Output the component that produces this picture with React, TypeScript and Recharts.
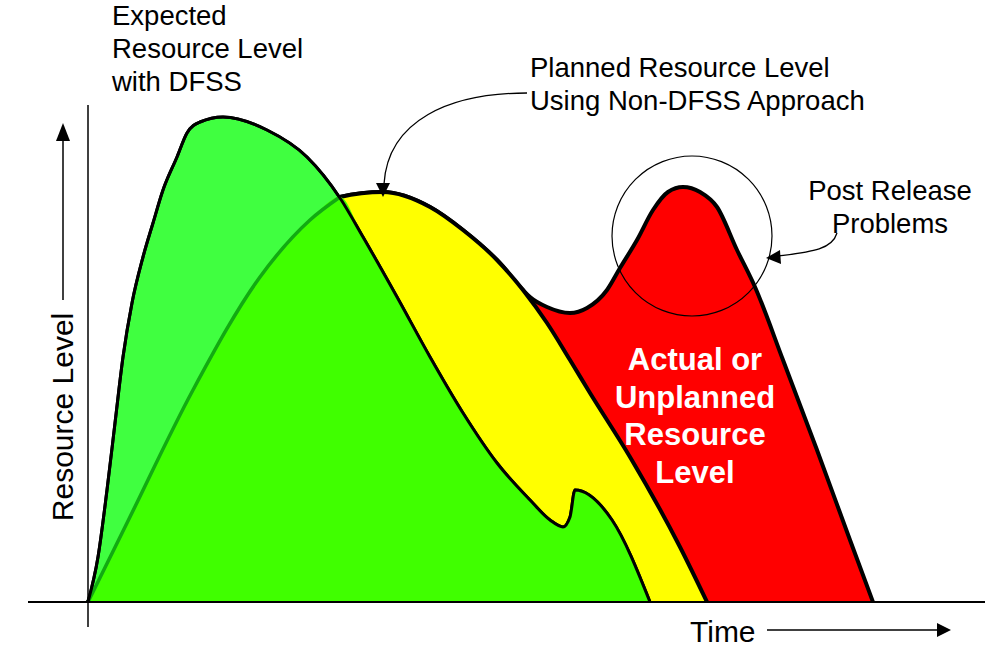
import React from 'react';
import { ComposedChart, Area, Line, XAxis, YAxis, ReferenceLine, ReferenceDot } from 'recharts';

// Time (x) and resource level (y) readings of each curve
const TIME_DFSS = [0, 1.0, 1.9, 2.7, 3.5, 4.4, 5.5, 6.5, 7.5, 8.9, 9.9, 11.2, 13.5, 17.9, 21.9, 25.2, 27.5, 30.9, 34.2, 37.5, 40.9, 44.2, 46.2, 47.5, 48.2, 48.7, 52.4, 56.2];
const LEVEL_DFSS = [0, 9, 22.4, 35.8, 49, 59.8, 69, 75.8, 82.4, 89, 93.8, 96, 97, 94.4, 89, 80.8, 73, 61, 49, 37.8, 27.8, 20.4, 16.4, 15, 17, 22.4, 16.4, 0];

const TIME_PLAN = [0, 3.9, 10.5, 17.2, 22.2, 25.2, 29.5, 34.2, 37.5, 40.9, 43.5, 45.9, 48.2, 50.2, 54.2, 59.2, 61.9];
const LEVEL_PLAN = [0, 15.8, 42.4, 65, 76.4, 81, 82, 79, 74.4, 68.4, 62.4, 55.8, 48.4, 41.8, 29, 11, 0];

const TIME_ACTUAL = [0, 3.9, 10.5, 17.2, 22.2, 25.2, 29.5, 34.2, 37.5, 40.9, 43.5, 44.2, 45.9, 48.2, 49.9, 51.9, 53.2, 54.9, 56.5, 58.0, 59.5, 61.2, 62.9, 64.9, 66.7, 69.5, 72.9, 76.2, 78.5];
const LEVEL_ACTUAL = [0, 15.8, 42.4, 65, 76.4, 81, 82, 79, 74.4, 68.4, 62.4, 61, 59, 57.8, 58.8, 62.4, 66.8, 72.4, 78.4, 82, 83, 82, 79, 70.4, 63, 48.4, 30.4, 12.4, 0];

// Crossing of planned and DFSS curves happens at time 25.2
const CROSS_PLAN_IDX = 5;
const CROSS_DFSS_IDX = 15;

const CIRCLE_CENTER = { t: 60.4, v: 73.2 };

const rows = (ts: number[], vs: number[]) => ts.map((t, i) => ({ t, v: vs[i] }));

const dfss = rows(TIME_DFSS, LEVEL_DFSS);
const planned = rows(TIME_PLAN, LEVEL_PLAN);
const actual = rows(TIME_ACTUAL, LEVEL_ACTUAL);
const plannedRise = planned.slice(0, CROSS_PLAN_IDX + 1);
const overlap = [...plannedRise, ...dfss.slice(CROSS_DFSS_IDX + 1)];

const FONT = '"Liberation Sans", Arial, sans-serif';

export default function App() {
  const common = { isAnimationActive: false, dot: false, activeDot: false, dataKey: 'v', type: 'monotone' as const };
  return (
    <div style={{ position: 'absolute', left: 0, top: 0, width: 1000, height: 662, background: '#fff', fontFamily: FONT }}>
      <ComposedChart width={1000} height={662} margin={{ top: 105, right: 15, bottom: 35, left: 28 }}>
        <XAxis dataKey="t" type="number" domain={[-6, 89.7]} hide allowDataOverflow />
        <YAxis type="number" domain={[-5, 99.4]} hide allowDataOverflow />
        <Area {...common} data={actual} fill="#FF0000" fillOpacity={1} stroke="#000" strokeWidth={4} baseValue={0} />
        <Area {...common} data={planned} fill="#FFFF00" fillOpacity={1} stroke="#000" strokeWidth={4} baseValue={0} />
        <Area {...common} data={dfss} fill="#40FF40" fillOpacity={1} stroke="#000" strokeWidth={3} baseValue={0} />
        <Area {...common} data={overlap} fill="#40FF00" fillOpacity={1} stroke="none" baseValue={0} />
        <Line {...common} data={plannedRise} stroke="#12AA12" strokeWidth={3.5} />
        <Line {...common} data={dfss} stroke="#000" strokeWidth={3} />
        <ReferenceLine x={0} stroke="#000" strokeWidth={1.5} />
        <ReferenceLine y={0} stroke="#000" strokeWidth={2} />
        <ReferenceDot x={CIRCLE_CENTER.t} y={CIRCLE_CENTER.v} r={80} fill="none" stroke="#000" strokeWidth={1.2} />
      </ComposedChart>
      <svg width={1000} height={662} style={{ position: 'absolute', left: 0, top: 0, pointerEvents: 'none' }}>
        <g fontFamily={FONT} fill="#000">
          <text x={112} y={25} fontSize={27.5}>Expected</text>
          <text x={112} y={58} fontSize={27.5}>Resource Level</text>
          <text x={112} y={91} fontSize={27.5}>with DFSS</text>
          <text x={530} y={77} fontSize={27.5}>Planned Resource Level</text>
          <text x={530} y={110} fontSize={27.5}>Using Non-DFSS Approach</text>
          <text x={890} y={200} fontSize={27.5} textAnchor="middle">Post Release</text>
          <text x={890} y={233} fontSize={27.5} textAnchor="middle">Problems</text>
          <text x={690} y={642} fontSize={30}>Time</text>
          <text x={73} y={417} fontSize={30} textAnchor="middle" transform="rotate(-90 73 417)">Resource Level</text>
        </g>
        <g fontFamily={FONT} fill="#fff" fontWeight="bold" fontSize={31} textAnchor="middle">
          <text x={695} y={370}>Actual or</text>
          <text x={695} y={407.5}>Unplanned</text>
          <text x={695} y={445}>Resource</text>
          <text x={695} y={482.5}>Level</text>
        </g>
        {/* axis title arrows */}
        <line x1={63} y1={300} x2={63} y2={138} stroke="#000" strokeWidth={1.5} />
        <polygon points="63,123 56,141 70,141" fill="#000" />
        <line x1={767} y1={630} x2={940} y2={630} stroke="#000" strokeWidth={1.5} />
        <polygon points="951,630 937,623 937,637" fill="#000" />
        {/* annotation arrows */}
        <path d="M 527 93 C 450 93, 388 120, 384 184" fill="none" stroke="#000" strokeWidth={1.3} />
        <polygon points="383,197 376,183 390,183" fill="#000" />
        <path d="M 837 233 C 832 250, 810 252, 779 256" fill="none" stroke="#000" strokeWidth={1.3} />
        <polygon points="766,258 780,250 781,264" fill="#000" />
      </svg>
    </div>
  );
}
